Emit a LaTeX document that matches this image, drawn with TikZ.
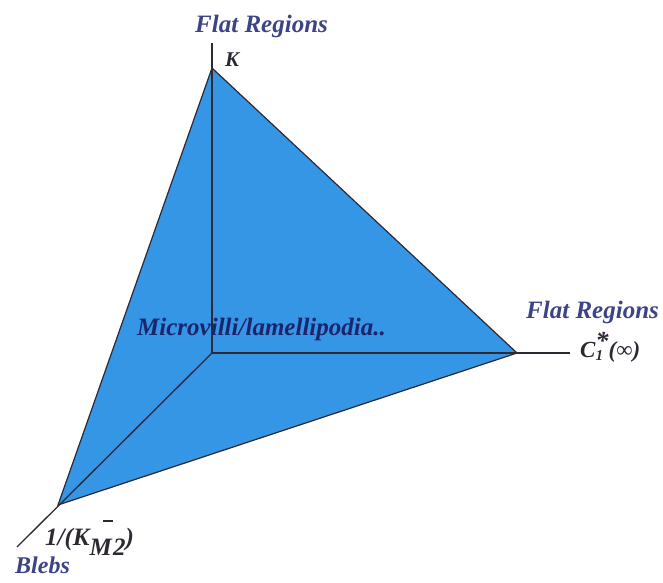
\documentclass[tikz,border=0pt]{standalone}
\usepackage{fontspec}
\setmainfont{Liberation Serif}
\usetikzlibrary{positioning}
\definecolor{sheet}{RGB}{52,150,228}
\definecolor{regionblue}{RGB}{58,68,135}
\definecolor{axisdark}{RGB}{45,40,50}
\definecolor{innernavy}{RGB}{28,36,110}

\begin{document}
\begin{tikzpicture}[x=1pt, y=-1pt,
  region/.style={font=\bfseries\itshape\fontsize{25}{27}\selectfont,
    text=regionblue, inner sep=0pt},
  axlabel/.style={font=\bfseries\itshape\fontsize{21}{23}\selectfont,
    text=axisdark, inner sep=0pt},
  axis/.style={line width=1.3pt, draw=axisdark}]
  \useasboundingbox (0,0) rectangle (663,582);
  % corners of the sheet and the origin
  \coordinate (o) at (212,353);
  \coordinate (k) at (212,68);
  \coordinate (c) at (517,353);
  \coordinate (m) at (58,505);
  % ends of the axes
  \coordinate (kend) at (212,43);
  \coordinate (cend) at (570,353);
  \coordinate (mend) at (17,547);
  % the sheet
  \filldraw[fill=sheet, draw=axisdark, line width=1.2pt] (k) -- (c) -- (m) -- cycle;
  % axes
  \draw[axis] (o) -- (kend);
  \draw[axis] (o) -- (cend);
  \draw[axis] (o) -- (mend);
  % labels
  \node[region, anchor=base west] (flattop) at (195,32) {Flat Regions};
  \node[axlabel, anchor=base west] (klab) at (225,66) {K};
  \node[region, anchor=base west] (flatright) at (526,318) {Flat Regions};
  \node[axlabel, anchor=base west, font=\bfseries\itshape\fontsize{23}{25}\selectfont]
    (clab) at (580,357)
    {C\rlap{\raisebox{-0.3ex}{\fontsize{15}{15}\selectfont 1}}\raisebox{0.7ex}{\fontsize{26}{26}\selectfont *}(∞)};
  \node[axlabel, anchor=base west, font=\bfseries\itshape\fontsize{25}{27}\selectfont]
    (mlab) at (45,545)
    {1/(K\raisebox{-0.9ex}{M\kern0.05em\llap{\raisebox{2.9ex}{\rule{0.4em}{0.07em}}}2})};
  \node[region, anchor=base west, font=\bfseries\itshape\fontsize{24}{26}\selectfont]
    (blebs) at (15,573) {Blebs};
  \node[region, text=innernavy, anchor=base west, font=\bfseries\itshape\fontsize{25}{27}\selectfont]
    (micro) at (137,335) {Microvilli/lamellipodia..};
\end{tikzpicture}
\end{document}
